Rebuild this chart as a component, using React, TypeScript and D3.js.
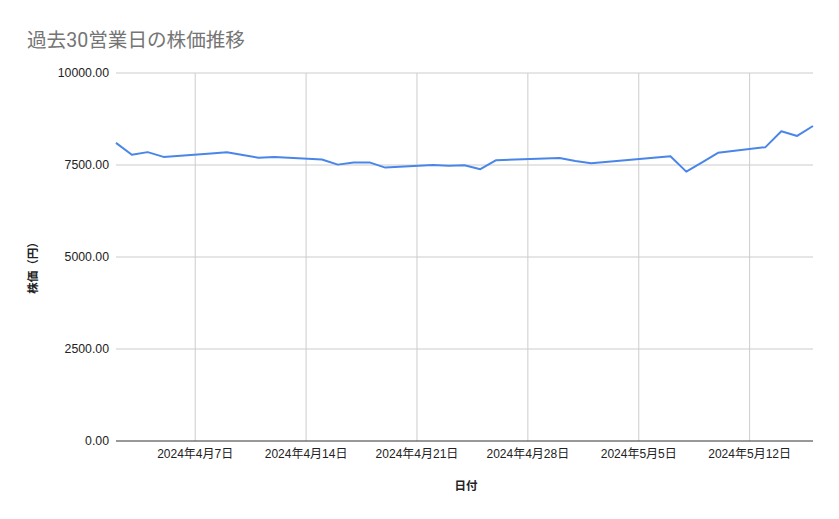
import { useRef, useEffect } from "react";
import * as d3 from "d3";

// 過去30営業日 (dates and closing prices)
const dates = [
  "2024-04-02", "2024-04-03", "2024-04-04", "2024-04-05",
  "2024-04-08", "2024-04-09", "2024-04-10", "2024-04-11", "2024-04-12",
  "2024-04-15", "2024-04-16", "2024-04-17", "2024-04-18", "2024-04-19",
  "2024-04-22", "2024-04-23", "2024-04-24", "2024-04-25", "2024-04-26",
  "2024-04-30", "2024-05-01", "2024-05-02",
  "2024-05-07", "2024-05-08", "2024-05-09", "2024-05-10",
  "2024-05-13", "2024-05-14", "2024-05-15", "2024-05-16",
];
const prices = [
  8100, 7780, 7850, 7720,
  7810, 7845, 7770, 7700, 7715,
  7650, 7510, 7570, 7570, 7430,
  7500, 7480, 7495, 7385, 7630,
  7690, 7610, 7550,
  7740, 7320, 7570, 7830,
  7985, 8415, 8290, 8560,
];
const yTicks = [0, 2500, 5000, 7500, 10000];
const xTicks = ["2024-04-07", "2024-04-14", "2024-04-21", "2024-04-28", "2024-05-05", "2024-05-12"];

const parse = (s: string) => {
  const [y, m, d] = s.split("-").map(Number);
  return new Date(y, m - 1, d);
};

export default function App() {
  const chartRef = useRef<HTMLDivElement>(null);

  useEffect(() => {
    if (!chartRef.current) return;
    d3.select(chartRef.current).selectAll("*").remove();

    const width = 839;
    const height = 519;
    const margin = { top: 73, right: 26, bottom: 78, left: 116 };
    const latin = "'Liberation Sans', Arial, 'Noto Sans CJK JP', sans-serif";

    const svg = d3
      .select(chartRef.current)
      .append("svg")
      .attr("width", width)
      .attr("height", height)
      .style("position", "absolute")
      .style("left", "0px")
      .style("top", "0px")
      .style("background", "#fff");

    const data = dates.map((d, i) => ({ date: parse(d), price: prices[i] }));

    const x = d3
      .scaleTime()
      .domain([parse("2024-04-02"), parse("2024-05-16")])
      .range([margin.left, width - margin.right]);

    const y = d3
      .scaleLinear()
      .domain([0, 10000])
      .range([height - margin.bottom, margin.top]);

    // vertical gridlines
    svg
      .selectAll("line.vgrid")
      .data(xTicks)
      .enter()
      .append("line")
      .attr("x1", (d) => x(parse(d)))
      .attr("x2", (d) => x(parse(d)))
      .attr("y1", margin.top)
      .attr("y2", height - margin.bottom)
      .attr("stroke", "#cccccc")
      .attr("stroke-width", 1);

    // horizontal gridlines
    svg
      .selectAll("line.hgrid")
      .data(yTicks.filter((t) => t > 0))
      .enter()
      .append("line")
      .attr("x1", margin.left)
      .attr("x2", width - margin.right)
      .attr("y1", (d) => y(d))
      .attr("y2", (d) => y(d))
      .attr("stroke", "#cccccc")
      .attr("stroke-width", 1);

    // baseline
    svg
      .append("line")
      .attr("x1", margin.left)
      .attr("x2", width - margin.right)
      .attr("y1", y(0))
      .attr("y2", y(0))
      .attr("stroke", "#333333")
      .attr("stroke-width", 1);

    // y tick labels
    svg
      .selectAll("text.ytick")
      .data(yTicks)
      .enter()
      .append("text")
      .attr("x", margin.left - 7)
      .attr("y", (d) => y(d))
      .attr("dy", "0.35em")
      .attr("text-anchor", "end")
      .attr("font-family", latin)
      .attr("font-size", "12.3px")
      .attr("fill", "#222")
      .text((d) => d.toFixed(2));

    // x tick labels
    svg
      .selectAll("text.xtick")
      .data(xTicks)
      .enter()
      .append("text")
      .attr("x", (d) => x(parse(d)))
      .attr("y", height - margin.bottom + 17)
      .attr("text-anchor", "middle")
      .attr("font-family", latin)
      .attr("font-size", "12px")
      .attr("fill", "#222")
      .text((d) => {
        const dt = parse(d);
        return `${dt.getFullYear()}年${dt.getMonth() + 1}月${dt.getDate()}日`;
      });

    // price line
    const line = d3
      .line<{ date: Date; price: number }>()
      .x((d) => x(d.date))
      .y((d) => y(d.price));

    svg
      .append("path")
      .datum(data)
      .attr("d", line)
      .attr("fill", "none")
      .attr("stroke", "#4a86e8")
      .attr("stroke-width", 2)
      .attr("stroke-linejoin", "round");

    // title
    svg
      .append("text")
      .attr("x", 27)
      .attr("y", 47)
      .attr("font-family", "Roboto, 'Noto Sans CJK JP', sans-serif")
      .attr("font-size", "19.6px")
      .attr("fill", "#757575")
      .text("過去30営業日の株価推移");

    // axis titles
    svg
      .append("text")
      .attr("x", 466)
      .attr("y", 490)
      .attr("text-anchor", "middle")
      .attr("font-family", latin)
      .attr("font-size", "11.5px")
      .attr("font-weight", "bold")
      .attr("fill", "#222")
      .text("日付");

    svg
      .append("text")
      .attr("transform", `translate(37, ${(margin.top + height - margin.bottom) / 2 + 8}) rotate(-90)`)
      .attr("text-anchor", "middle")
      .attr("font-family", latin)
      .attr("font-size", "11.5px")
      .attr("font-weight", "bold")
      .attr("fill", "#222")
      .text("株価（円）");
  }, []);

  return (
    <div>
      <div ref={chartRef}></div>
    </div>
  );
}
